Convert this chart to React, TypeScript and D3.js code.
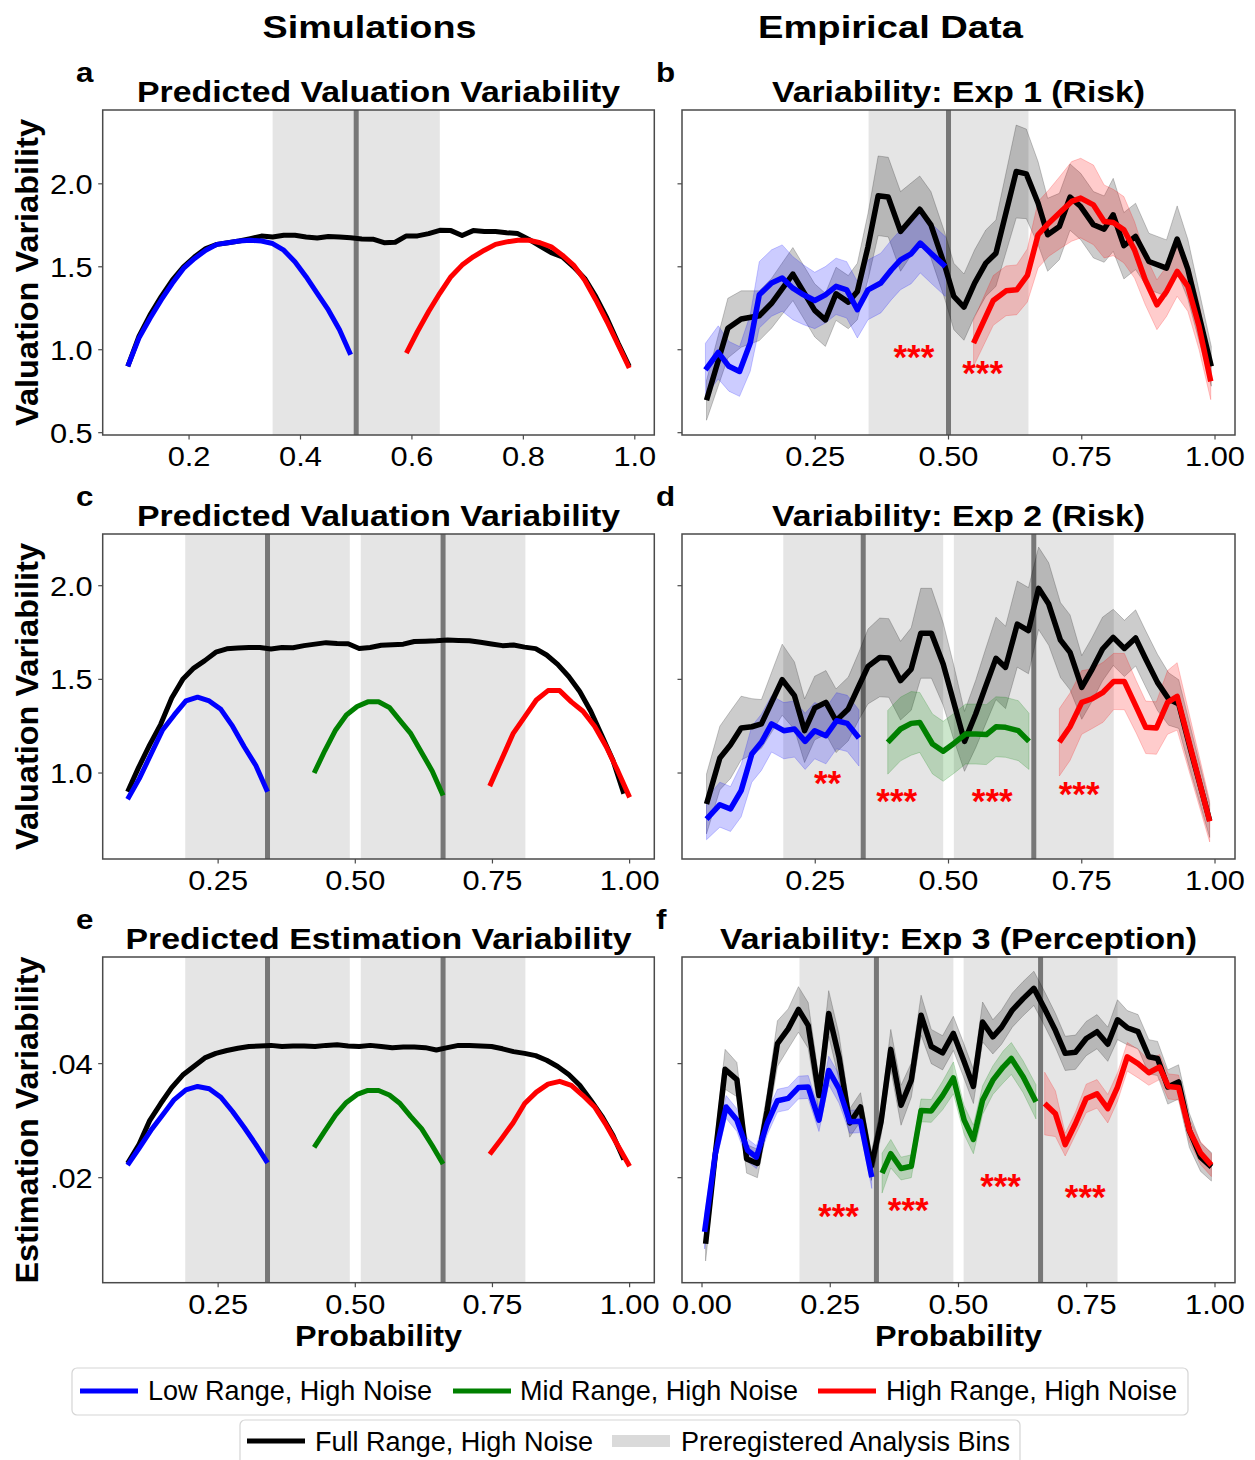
import React from 'react';
import * as d3 from 'd3';

const FONT = "'Liberation Sans', Arimo, Arial, Helvetica, sans-serif";

// ---------------- Simulation data (panel a) ----------------
const simAFullX = d3.range(46).map((i) => 0.09 + i * 0.02);
const simAFull = [0.90,1.08,1.21,1.32,1.42,1.50,1.56,1.61,1.635,1.645,1.655,1.67,1.685,1.68,1.69,1.69,1.68,1.673,1.683,1.68,1.675,1.668,1.666,1.645,1.648,1.686,1.686,1.70,1.72,1.718,1.688,1.718,1.713,1.713,1.705,1.70,1.665,1.625,1.585,1.56,1.50,1.43,1.32,1.19,1.04,0.90];
const simALowX = d3.range(21).map((i) => 0.09 + i * 0.02);
const simALow = [0.90,1.07,1.19,1.30,1.40,1.49,1.55,1.60,1.635,1.645,1.655,1.66,1.655,1.64,1.60,1.53,1.44,1.34,1.24,1.12,0.97];
const simAHighX = d3.range(21).map((i) => 0.59 + i * 0.02);
const simAHigh = [0.98,1.11,1.23,1.34,1.44,1.51,1.56,1.60,1.635,1.65,1.66,1.66,1.645,1.62,1.57,1.51,1.42,1.30,1.17,1.03,0.89];

// ---------------- Simulation data (panels c, e) ----------------
const simFullX = d3.range(46).map((i) => 0.085 + i * 0.0201);
const simLowX = d3.range(13).map((i) => 0.085 + i * 0.02125);
const simMidX = d3.range(13).map((i) => 0.425 + i * 0.01958);
const simHighX = d3.range(13).map((i) => 0.745 + i * 0.02125);

const simCFull = [0.90,1.03,1.15,1.26,1.40,1.50,1.56,1.60,1.645,1.663,1.667,1.670,1.670,1.662,1.670,1.669,1.680,1.688,1.696,1.692,1.690,1.665,1.670,1.682,1.685,1.688,1.702,1.704,1.706,1.710,1.708,1.706,1.698,1.689,1.680,1.683,1.672,1.664,1.630,1.580,1.515,1.435,1.330,1.200,1.070,0.89];
const simCLow = [0.86,0.97,1.10,1.23,1.31,1.385,1.405,1.385,1.34,1.25,1.14,1.04,0.90];
const simCMid = [1.00,1.12,1.23,1.31,1.355,1.38,1.38,1.35,1.28,1.21,1.11,1.01,0.88];
const simCHigh = [0.93,1.07,1.21,1.30,1.39,1.44,1.44,1.38,1.33,1.25,1.14,1.01,0.87];

const simEFull = [0.0225,0.0257,0.0300,0.0330,0.0358,0.0380,0.0395,0.0410,0.0418,0.0423,0.0427,0.0430,0.0431,0.0432,0.0430,0.0431,0.0431,0.0430,0.0432,0.0433,0.0431,0.0430,0.0432,0.0430,0.0428,0.0429,0.0429,0.0428,0.0424,0.0428,0.0432,0.0432,0.0431,0.0430,0.0426,0.0421,0.0418,0.0414,0.0406,0.0395,0.0381,0.0362,0.0336,0.0308,0.0275,0.0232];
const simELow = [0.0222,0.0252,0.0283,0.0310,0.0337,0.0354,0.0360,0.0356,0.0341,0.0316,0.0288,0.0258,0.0226];
const simEMid = [0.0253,0.0282,0.0310,0.0332,0.0346,0.0353,0.0353,0.0345,0.0330,0.0307,0.0286,0.0256,0.0224];
const simEHigh = [0.0241,0.0268,0.0296,0.0330,0.0350,0.0364,0.0369,0.0362,0.0344,0.0324,0.0292,0.0256,0.0220];

// ---------------- Empirical data: Exp 1 (panel b) ----------------
const expBFullX = [0.046,0.086,0.111,0.145,0.168,0.208,0.249,0.269,0.289,0.312,0.329,0.349,0.368,0.387,0.41,0.446,0.467,0.493,0.51,0.529,0.549,0.57,0.589,0.627,0.646,0.668,0.686,0.708,0.728,0.748,0.772,0.792,0.809,0.829,0.851,0.876,0.909,0.929,0.949,0.993];
const expBFull = [0.695,1.13,1.185,1.205,1.28,1.456,1.237,1.18,1.337,1.287,1.351,1.622,1.928,1.92,1.713,1.847,1.753,1.506,1.321,1.257,1.402,1.522,1.582,2.074,2.06,1.884,1.693,1.743,1.92,1.863,1.753,1.727,1.813,1.627,1.683,1.532,1.492,1.667,1.486,0.9];
const expBFullErr = [0.12,0.18,0.17,0.15,0.15,0.16,0.16,0.16,0.16,0.16,0.17,0.2,0.24,0.24,0.24,0.2,0.2,0.2,0.2,0.2,0.2,0.2,0.2,0.28,0.27,0.25,0.22,0.2,0.2,0.2,0.2,0.2,0.22,0.2,0.2,0.17,0.17,0.2,0.18,0.12];
const expBLowX = [0.044,0.068,0.088,0.108,0.128,0.145,0.168,0.188,0.208,0.228,0.249,0.269,0.289,0.309,0.329,0.349,0.373,0.393,0.41,0.43,0.447,0.467,0.494];
const expBLow = [0.879,0.984,0.9,0.869,1.04,1.331,1.402,1.432,1.371,1.331,1.297,1.331,1.382,1.361,1.241,1.361,1.402,1.482,1.542,1.578,1.643,1.582,1.502];
const expBLowErr = [0.16,0.16,0.15,0.15,0.17,0.2,0.2,0.2,0.19,0.18,0.17,0.17,0.17,0.17,0.17,0.18,0.18,0.18,0.18,0.18,0.18,0.18,0.18];
const expBHighX = [0.547,0.584,0.608,0.628,0.648,0.668,0.688,0.711,0.731,0.748,0.772,0.792,0.809,0.829,0.849,0.869,0.891,0.909,0.929,0.949,0.97,0.992];
const expBHigh = [1.04,1.297,1.355,1.361,1.448,1.693,1.763,1.833,1.894,1.914,1.873,1.773,1.767,1.723,1.602,1.422,1.271,1.351,1.472,1.382,1.141,0.809];
const expBHighErr = [0.14,0.15,0.15,0.15,0.16,0.2,0.2,0.22,0.24,0.24,0.24,0.22,0.2,0.2,0.17,0.15,0.15,0.15,0.15,0.15,0.14,0.11];

// ---------------- Empirical data: Exp 2 (panel d) ----------------
const expDFullX = [0.046,0.071,0.091,0.111,0.131,0.149,0.168,0.188,0.211,0.23,0.249,0.27,0.289,0.312,0.332,0.349,0.371,0.388,0.41,0.43,0.448,0.468,0.49,0.509,0.53,0.551,0.569,0.589,0.607,0.629,0.65,0.669,0.688,0.71,0.728,0.75,0.768,0.789,0.809,0.83,0.851,0.87,0.892,0.913,0.932,0.953,0.99];
const expDFull = [0.835,1.08,1.151,1.24,1.247,1.262,1.377,1.498,1.413,1.226,1.347,1.377,1.279,1.342,1.466,1.569,1.617,1.614,1.493,1.555,1.746,1.746,1.582,1.386,1.169,1.315,1.457,1.612,1.564,1.795,1.76,1.986,1.902,1.71,1.644,1.457,1.546,1.662,1.724,1.665,1.721,1.609,1.484,1.395,1.368,1.137,0.746];
const expDFullErr = [0.16,0.17,0.18,0.17,0.15,0.13,0.16,0.19,0.18,0.17,0.17,0.17,0.17,0.17,0.18,0.2,0.21,0.21,0.21,0.22,0.24,0.24,0.22,0.2,0.16,0.18,0.2,0.22,0.22,0.23,0.23,0.22,0.22,0.2,0.2,0.17,0.17,0.17,0.15,0.15,0.15,0.15,0.15,0.14,0.13,0.12,0.09];
const expDLowX = [0.046,0.071,0.091,0.111,0.131,0.149,0.168,0.191,0.211,0.231,0.249,0.27,0.29,0.31,0.332];
const expDLow = [0.754,0.831,0.808,0.906,1.101,1.164,1.262,1.226,1.235,1.169,1.226,1.199,1.279,1.265,1.187];
const expDLowErr = [0.11,0.12,0.12,0.14,0.15,0.15,0.15,0.15,0.15,0.15,0.15,0.15,0.15,0.15,0.15];
const expDMidX = [0.386,0.41,0.43,0.446,0.47,0.49,0.51,0.532,0.551,0.571,0.589,0.607,0.631,0.651];
const expDMid = [1.164,1.235,1.265,1.27,1.155,1.116,1.158,1.208,1.208,1.205,1.247,1.244,1.226,1.169];
const expDMidErr = [0.17,0.17,0.17,0.16,0.16,0.16,0.16,0.16,0.16,0.16,0.16,0.16,0.16,0.15];
const expDHighX = [0.708,0.728,0.75,0.768,0.79,0.81,0.83,0.852,0.87,0.89,0.911,0.929,0.99];
const expDHigh = [1.164,1.247,1.377,1.395,1.431,1.489,1.488,1.354,1.244,1.24,1.377,1.409,0.742];
const expDHighErr = [0.18,0.18,0.17,0.16,0.16,0.15,0.15,0.14,0.14,0.14,0.17,0.18,0.11];

// ---------------- Empirical data: Exp 3 (panel f) ----------------
const expFFullX = [0.007,0.026,0.045,0.068,0.087,0.108,0.127,0.147,0.168,0.188,0.207,0.228,0.247,0.267,0.288,0.309,0.33,0.349,0.368,0.388,0.408,0.427,0.447,0.469,0.49,0.51,0.529,0.547,0.567,0.584,0.605,0.626,0.647,0.668,0.689,0.708,0.728,0.749,0.77,0.791,0.81,0.829,0.85,0.871,0.888,0.908,0.929,0.95,0.972,0.993];
const expFFull = [0.0084,0.0242,0.039,0.0372,0.0233,0.0225,0.0318,0.0435,0.0461,0.0495,0.0467,0.0344,0.0488,0.0412,0.0296,0.0324,0.022,0.0298,0.0425,0.0327,0.0371,0.0485,0.043,0.0419,0.0453,0.0406,0.036,0.0473,0.0447,0.0464,0.0494,0.0514,0.0532,0.0496,0.0458,0.0418,0.042,0.0444,0.0456,0.0434,0.0477,0.0463,0.0456,0.0412,0.0409,0.0359,0.0368,0.0283,0.0236,0.0219];
const expFFullErr = [0.003,0.003,0.0035,0.003,0.0025,0.0025,0.003,0.004,0.0035,0.004,0.004,0.003,0.004,0.004,0.0025,0.0025,0.0025,0.0025,0.0035,0.0035,0.003,0.0035,0.003,0.003,0.003,0.003,0.003,0.0035,0.003,0.003,0.003,0.003,0.003,0.003,0.003,0.003,0.003,0.003,0.003,0.003,0.0035,0.003,0.003,0.003,0.003,0.003,0.003,0.003,0.0025,0.0025];
const expFLowX = [0.005,0.026,0.047,0.068,0.089,0.106,0.127,0.147,0.168,0.188,0.207,0.228,0.247,0.267,0.288,0.309,0.331];
const expFLow = [0.0105,0.0242,0.0324,0.0301,0.0248,0.0236,0.0295,0.0335,0.0339,0.0358,0.0359,0.0301,0.0388,0.0356,0.0298,0.0299,0.0201];
const expFLowErr = [0.003,0.002,0.002,0.002,0.002,0.002,0.002,0.002,0.002,0.002,0.002,0.002,0.0025,0.0025,0.002,0.002,0.002];
const expFMidX = [0.351,0.368,0.388,0.408,0.427,0.447,0.469,0.49,0.511,0.529,0.547,0.567,0.587,0.603,0.626,0.651];
const expFMid = [0.0208,0.0242,0.0216,0.022,0.0318,0.0317,0.0344,0.0375,0.0301,0.0267,0.0336,0.0371,0.0394,0.0409,0.0377,0.0333];
const expFMidErr = [0.0035,0.0025,0.002,0.002,0.002,0.002,0.0025,0.0028,0.0025,0.0025,0.0025,0.0025,0.0028,0.0028,0.0028,0.003];
const expFHighX = [0.668,0.689,0.708,0.728,0.749,0.77,0.791,0.81,0.829,0.85,0.871,0.892,0.909,0.929,0.95,0.972,0.993];
const expFHigh = [0.033,0.0312,0.0258,0.0295,0.0339,0.0347,0.0321,0.0359,0.0412,0.04,0.0384,0.0394,0.036,0.0358,0.0283,0.0243,0.0222];
const expFHighErr = [0.0055,0.004,0.002,0.002,0.0025,0.0025,0.0025,0.0025,0.0025,0.0025,0.0022,0.0022,0.0022,0.0022,0.002,0.002,0.002];

// ---------------- Analysis bins & significance ----------------
const binsTwo = [[0.35, 0.65]];
const binLinesTwo = [0.5];
const binsThree = [[0.19, 0.49], [0.51, 0.81]];
const binLinesThree = [0.34, 0.66];

const starsB = [{ x: 0.435, y: 0.998, t: '***' }, { x: 0.564, y: 0.902, t: '***' }];
const starsD = [{ x: 0.273, y: 0.986, t: '**' }, { x: 0.403, y: 0.889, t: '***' }, { x: 0.582, y: 0.889, t: '***' }, { x: 0.745, y: 0.927, t: '***' }];
const starsF = [{ x: 0.266, y: 0.01456, t: '***' }, { x: 0.402, y: 0.01561, t: '***' }, { x: 0.582, y: 0.01982, t: '***' }, { x: 0.747, y: 0.01779, t: '***' }];

const ticksX1 = [0.2, 0.4, 0.6, 0.8, 1.0];
const ticksX2 = [0.25, 0.5, 0.75, 1.0];
const ticksX3 = [0, 0.25, 0.5, 0.75, 1.0];
const ticksYVal1 = [0.5, 1.0, 1.5, 2.0];
const ticksYVal2 = [1.0, 1.5, 2.0];
const ticksYEst = [0.02, 0.04];

const BLUE = '#0000ff', GREEN = '#008000', RED = '#ff0000', BLACK = '#000000';

const mk = (xs, ys, errs?) => xs.map((x, i) => [x, ys[i], errs ? errs[i] : 0]);

// ---------------- Layout ----------------
const COLS = [{ left: 102.7, width: 551.6 }, { left: 682, width: 553 }];
const ROWS = [{ top: 110, height: 325 }, { top: 534, height: 325 }, { top: 957, height: 325.7 }];

const f1 = d3.format('.1f');
const f2 = d3.format('.2f');
const fEst = (v) => v.toFixed(2).replace(/^0/, '');

const panels = [
  {
    id: 'a', col: 0, row: 0, xDomain: [0.045, 1.035], yDomain: [0.486, 2.445],
    xTicks: ticksX1, xFmt: f1, yTicks: ticksYVal1, yFmt: f1, yLabels: true,
    bins: binsTwo, binLines: binLinesTwo, stars: [],
    series: [
      { d: mk(simAFullX, simAFull), c: BLACK },
      { d: mk(simALowX, simALow), c: BLUE },
      { d: mk(simAHighX, simAHigh), c: RED },
    ],
  },
  {
    id: 'b', col: 1, row: 0, xDomain: [0.0, 1.0375], yDomain: [0.486, 2.445],
    xTicks: ticksX2, xFmt: f2, yTicks: ticksYVal1, yFmt: f1, yLabels: false,
    bins: binsTwo, binLines: binLinesTwo, stars: starsB,
    series: [
      { d: mk(expBFullX, expBFull, expBFullErr), c: BLACK, band: true },
      { d: mk(expBLowX, expBLow, expBLowErr), c: BLUE, band: true },
      { d: mk(expBHighX, expBHigh, expBHighErr), c: RED, band: true },
    ],
  },
  {
    id: 'c', col: 0, row: 1, xDomain: [0.0396, 1.045], yDomain: [0.541, 2.276],
    xTicks: ticksX2, xFmt: f2, yTicks: ticksYVal2, yFmt: f1, yLabels: true,
    bins: binsThree, binLines: binLinesThree, stars: [],
    series: [
      { d: mk(simFullX, simCFull), c: BLACK },
      { d: mk(simLowX, simCLow), c: BLUE },
      { d: mk(simMidX, simCMid), c: GREEN },
      { d: mk(simHighX, simCHigh), c: RED },
    ],
  },
  {
    id: 'd', col: 1, row: 1, xDomain: [0.0, 1.0375], yDomain: [0.541, 2.276],
    xTicks: ticksX2, xFmt: f2, yTicks: ticksYVal2, yFmt: f1, yLabels: false,
    bins: binsThree, binLines: binLinesThree, stars: starsD,
    series: [
      { d: mk(expDFullX, expDFull, expDFullErr), c: BLACK, band: true },
      { d: mk(expDLowX, expDLow, expDLowErr), c: BLUE, band: true },
      { d: mk(expDMidX, expDMid, expDMidErr), c: GREEN, band: true },
      { d: mk(expDHighX, expDHigh, expDHighErr), c: RED, band: true },
    ],
  },
  {
    id: 'e', col: 0, row: 2, xDomain: [0.0396, 1.045], yDomain: [0.00158, 0.0587],
    xTicks: ticksX2, xFmt: f2, yTicks: ticksYEst, yFmt: fEst, yLabels: true,
    bins: binsThree, binLines: binLinesThree, stars: [],
    series: [
      { d: mk(simFullX, simEFull), c: BLACK },
      { d: mk(simLowX, simELow), c: BLUE },
      { d: mk(simMidX, simEMid), c: GREEN },
      { d: mk(simHighX, simEHigh), c: RED },
    ],
  },
  {
    id: 'f', col: 1, row: 2, xDomain: [-0.039, 1.039], yDomain: [0.00158, 0.0587],
    xTicks: ticksX3, xFmt: f2, yTicks: ticksYEst, yFmt: fEst, yLabels: false,
    bins: binsThree, binLines: binLinesThree, stars: starsF,
    series: [
      { d: mk(expFFullX, expFFull, expFFullErr), c: BLACK, band: true },
      { d: mk(expFLowX, expFLow, expFLowErr), c: BLUE, band: true },
      { d: mk(expFMidX, expFMid, expFMidErr), c: GREEN, band: true },
      { d: mk(expFHighX, expFHigh, expFHighErr), c: RED, band: true },
    ],
  },
];

const titles = [
  { t: 'Predicted Valuation Variability', len: 483 },
  { t: 'Variability: Exp 1 (Risk)', len: 373 },
  { t: 'Predicted Valuation Variability', len: 483 },
  { t: 'Variability: Exp 2 (Risk)', len: 373 },
  { t: 'Predicted Estimation Variability', len: 506 },
  { t: 'Variability: Exp 3 (Perception)', len: 477 },
];

const TICK_SX = 1.1;

function Txt({ x, y, fs, bold = false, anchor = 'start', sx = 1, fill = '#000', len = undefined, children }) {
  return (
    <text
      transform={`translate(${x},${y}) scale(${sx},1)`}
      fontSize={fs}
      fontWeight={bold ? 'bold' : 'normal'}
      textAnchor={anchor}
      fill={fill}
      fontFamily={FONT}
      textLength={len}
      lengthAdjust={len ? 'spacingAndGlyphs' : undefined}
    >
      {children}
    </text>
  );
}

function Panel({ p, idx }) {
  const { left, width } = COLS[p.col];
  const { top, height } = ROWS[p.row];
  const x = d3.scaleLinear().domain(p.xDomain).range([left, left + width]);
  const y = d3.scaleLinear().domain(p.yDomain).range([top + height, top]);
  const line = d3.line().x((d) => x(d[0])).y((d) => y(d[1]));
  const area = d3.area().x((d) => x(d[0])).y0((d) => y(d[1] - d[2])).y1((d) => y(d[1] + d[2]));
  const clipId = `clip-${p.id}`;
  const bottom = top + height;
  const spine = '#4a4a4a';
  const letterX = p.col === 0 ? 76 : 656;
  const title = titles[idx];
  const lw = p.col === 0 ? 5 : 5.5;
  return (
    <g>
      <defs>
        <clipPath id={clipId}>
          <rect x={left} y={top} width={width} height={height} />
        </clipPath>
      </defs>
      <g clipPath={`url(#${clipId})`}>
        {p.bins.map((b, i) => (
          <rect key={i} x={x(b[0])} y={top} width={x(b[1]) - x(b[0])} height={height} fill="#d3d3d3" fillOpacity={0.6} />
        ))}
        {p.binLines.map((v, i) => (
          <line key={i} x1={x(v)} x2={x(v)} y1={top} y2={bottom} stroke="#777777" strokeWidth={5} />
        ))}
        {p.series.map((s, i) =>
          s.band ? (
            <path key={'b' + i} d={area(s.d)} fill={s.c} fillOpacity={0.2} stroke={s.c} strokeOpacity={0.2} strokeWidth={1} />
          ) : null
        )}
        {p.series.map((s, i) => (
          <path key={'l' + i} d={line(s.d)} fill="none" stroke={s.c} strokeWidth={lw} strokeLinejoin="round" strokeLinecap="butt" />
        ))}
      </g>
      {p.stars.map((s, i) => (
        <Txt key={i} x={x(s.x)} y={y(s.y) + 19} fs={35} bold anchor="middle" fill={RED}>
          {s.t}
        </Txt>
      ))}
      <rect x={left} y={top} width={width} height={height} fill="none" stroke={spine} strokeWidth={1.5} />
      {p.xTicks.map((t, i) => (
        <g key={i}>
          <line x1={x(t)} x2={x(t)} y1={bottom} y2={bottom + 4.5} stroke={spine} strokeWidth={1.2} />
          <Txt x={x(t)} y={bottom + 31} fs={28} anchor="middle" sx={TICK_SX}>
            {p.xFmt(t)}
          </Txt>
        </g>
      ))}
      {p.yTicks.map((t, i) => (
        <g key={i}>
          <line x1={left - 4.5} x2={left} y1={y(t)} y2={y(t)} stroke={spine} strokeWidth={1.2} />
          {p.yLabels ? (
            <Txt x={left - 10} y={y(t) + 10} fs={28} anchor="end" sx={TICK_SX}>
              {p.yFmt(t)}
            </Txt>
          ) : null}
        </g>
      ))}
      <Txt x={left + width / 2} y={top - 8} fs={29} bold anchor="middle" len={title.len}>
        {title.t}
      </Txt>
      <Txt x={letterX} y={top - 28} fs={28} bold sx={1.12}>
        {p.id}
      </Txt>
    </g>
  );
}

const legendRow1 = [
  { label: 'Low Range, High Noise', c: BLUE, x0: 80, tx: 148, len: 284 },
  { label: 'Mid Range, High Noise', c: GREEN, x0: 453, tx: 520, len: 278 },
  { label: 'High Range, High Noise', c: RED, x0: 818, tx: 886, len: 291 },
];

export default function App() {
  return (
    <svg
      width={1255}
      height={1460}
      viewBox="0 0 1255 1460"
      style={{ position: 'absolute', left: 0, top: 0, background: '#fff' }}
    >
      <rect x={0} y={0} width={1255} height={1460} fill="#fff" />
      <Txt x={369.5} y={38} fs={32} bold anchor="middle" len={214}>Simulations</Txt>
      <Txt x={890.5} y={38} fs={32} bold anchor="middle" len={265}>Empirical Data</Txt>

      {panels.map((p, i) => (
        <Panel key={p.id} p={p} idx={i} />
      ))}

      {/* y-axis labels */}
      <text transform="translate(38,272.5) rotate(-90)" fontSize={32} fontWeight="bold" textAnchor="middle" fontFamily={FONT} textLength={307} lengthAdjust="spacingAndGlyphs">Valuation Variability</text>
      <text transform="translate(38,696.5) rotate(-90)" fontSize={32} fontWeight="bold" textAnchor="middle" fontFamily={FONT} textLength={307} lengthAdjust="spacingAndGlyphs">Valuation Variability</text>
      <text transform="translate(38,1120) rotate(-90)" fontSize={32} fontWeight="bold" textAnchor="middle" fontFamily={FONT} textLength={327} lengthAdjust="spacingAndGlyphs">Estimation Variability</text>

      {/* x-axis labels */}
      <Txt x={378.5} y={1346} fs={29} bold anchor="middle" len={167}>Probability</Txt>
      <Txt x={958.5} y={1346} fs={29} bold anchor="middle" len={167}>Probability</Txt>

      {/* legend */}
      <rect x={72} y={1368} width={1116} height={47} rx={5} fill="#fff" stroke="#d5d5d5" strokeWidth={1.2} />
      {legendRow1.map((l, i) => (
        <g key={i}>
          <line x1={l.x0} x2={l.x0 + 58} y1={1391} y2={1391} stroke={l.c} strokeWidth={5} />
          <Txt x={l.tx} y={1400} fs={28} len={l.len}>{l.label}</Txt>
        </g>
      ))}
      <rect x={240} y={1420} width={780} height={60} rx={5} fill="#fff" stroke="#d5d5d5" strokeWidth={1.2} />
      <line x1={247} x2={305} y1={1441} y2={1441} stroke={BLACK} strokeWidth={5} />
      <Txt x={315} y={1451} fs={28} len={278}>Full Range, High Noise</Txt>
      <rect x={612} y={1435} width={58} height={12} fill="#d3d3d3" fillOpacity={0.85} />
      <Txt x={681} y={1451} fs={28} len={329}>Preregistered Analysis Bins</Txt>
    </svg>
  );
}
